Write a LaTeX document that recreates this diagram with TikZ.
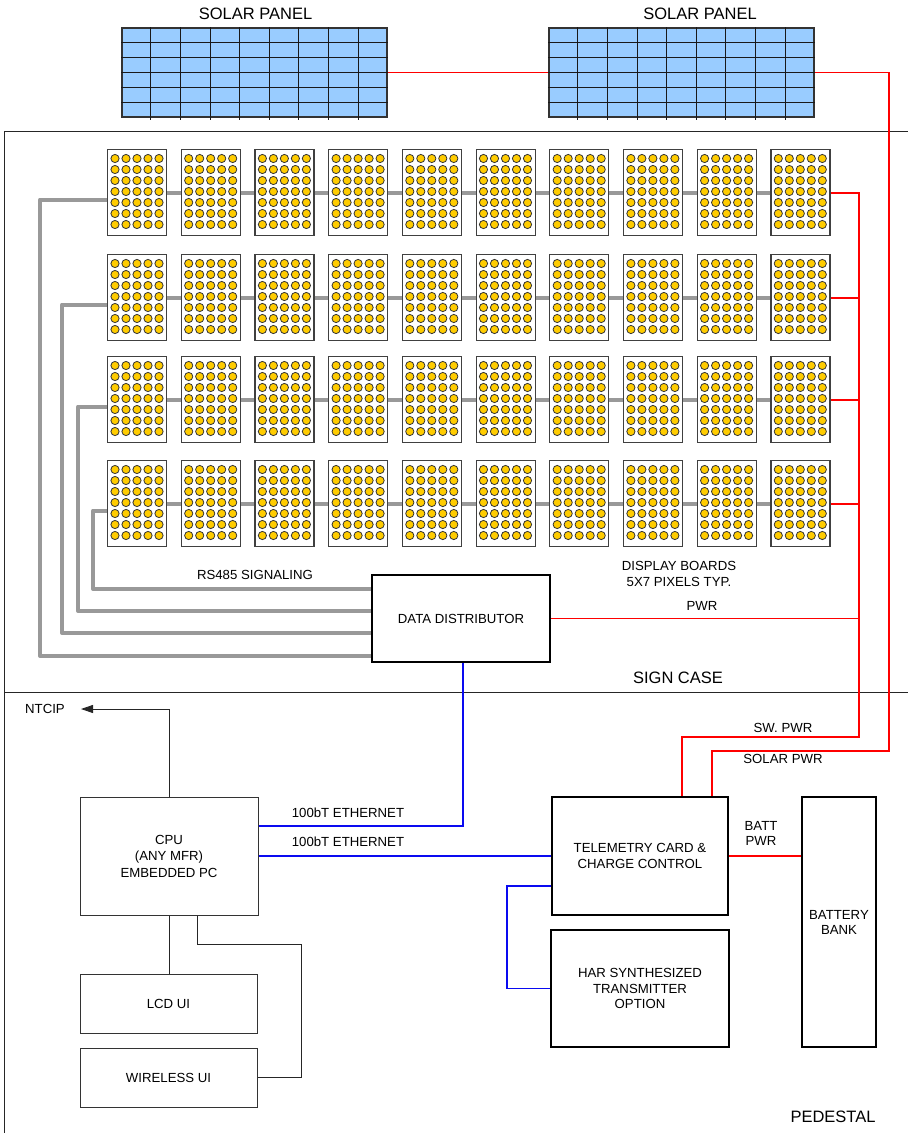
\documentclass[tikz,border=0pt]{standalone}
\usepackage{fontspec}
\setmainfont{Liberation Sans}
\usetikzlibrary{arrows.meta,calc}
\definecolor{busgray}{RGB}{153,153,153}
\definecolor{panelblue}{RGB}{153,204,255}
\definecolor{ledyellow}{RGB}{255,204,0}
\definecolor{pwrred}{RGB}{255,0,0}
\definecolor{ethblue}{RGB}{10,10,240}
\begin{document}
\begin{tikzpicture}[x=1pt,y=-1pt,
  lab/.style={font=\fontsize{13.2}{15.5}\selectfont,inner sep=0pt,align=center},
  biglab/.style={font=\fontsize{16.5}{19}\selectfont,inner sep=0pt},
  box/.style={draw=black,line width=1.7pt,align=center,inner sep=0pt,font=\fontsize{13.2}{16}\selectfont},
  thinbox/.style={draw=black!80,line width=1pt,align=center,inner sep=0pt,font=\fontsize{13.2}{16.5}\selectfont},
  board/.style={draw=black!75,line width=1.2pt,minimum width=59pt,minimum height=86pt,inner sep=0pt,anchor=north west},
  dot/.style={fill=ledyellow,draw=black!80,line width=0.8pt},
  panel/.style={fill=panelblue,draw=black!80,line width=1.5pt,minimum width=265pt,minimum height=89pt,inner sep=0pt},
  gridl/.style={draw=black!90,line width=1.1pt},
  bus/.style={draw=busgray,line width=4pt},
  pwr/.style={draw=pwrred,line width=1.9pt},
  eth/.style={draw=ethblue,line width=1.9pt},
  wire/.style={draw=black!85,line width=0.9pt},
  frame/.style={draw=black!85,line width=1pt}]
\useasboundingbox (0,0) rectangle (908,1133);

% frames
\draw[frame] (4,1133) -- (4,131) -- (908,131);
\draw[frame] (4,692) -- (908,692);

% solar panels
\node[panel] (sp1) at (254.5,72.5) {};
\node[panel] (sp2) at (681.5,72.5) {};
\foreach \p in {sp1,sp2}{
  \foreach \k in {1,...,8}
    \draw[gridl] ($(\p.north west)!\k/9!(\p.north east)$) -- ([yshift=-2pt]$(\p.south west)!\k/9!(\p.south east)$);
  \foreach \k in {1,...,5}
    \draw[gridl] ($(\p.north west)!\k/6!(\p.south west)$) -- ($(\p.north east)!\k/6!(\p.south east)$);
}
\node[biglab] (t1) at (255.5,14) {SOLAR PANEL};
\node[biglab] (t2) at (700,14) {SOLAR PANEL};

% display boards
\foreach \j/\t in {1/149,2/254,3/356,4/460}{
  \foreach \i in {0,...,9}{
    \pgfmathsetmacro\bx{107+73.7*\i}
    \node[board] (b-\i-\j) at (\bx,\t) {};
    \foreach \k in {0,...,4}
      \foreach \m in {0,...,6}
        \draw[dot] (\bx+8+11*\k,\t+9.5+11*\m) circle[radius=4.1pt];
  }
  \foreach \i [evaluate=\i as \n using int(\i+1)] in {0,...,8}
    \draw[bus] (b-\i-\j.east) -- (b-\n-\j.west);
}

% data distributor
\node[box,minimum width=178pt,minimum height=87pt] (dd) at (461,618.5) {DATA DISTRIBUTOR};

% RS485 buses
\coordinate (l1) at (40,656);
\coordinate (l2) at (62,633);
\coordinate (l3) at (78,611);
\coordinate (l4) at (93,589);
\foreach \j in {1,...,4}
  \draw[bus,line join=round] ([yshift=-7pt]b-0-\j.west) -| (l\j) -- (l\j -| dd.west);

\node[lab] (rs) at (255,575) {RS485 SIGNALING};
\node[lab] (dbl) at (679,566) {DISPLAY BOARDS};
\node[lab] (pxl) at (679,582) {5X7 PIXELS TYP.};
\node[lab] (pwrl) at (702,606) {PWR};
\node[biglab] (sc) at (678,678) {SIGN CASE};

% pedestal boxes
\node[thinbox,minimum width=178pt,minimum height=118pt] (cpu) at (169,856) {CPU\\(ANY MFR)\\EMBEDDED PC};
\node[thinbox,minimum width=177pt,minimum height=59pt] (lcd) at (168.5,1003.5) {LCD UI};
\node[thinbox,minimum width=177pt,minimum height=59pt] (wl) at (168.5,1077.5) {WIRELESS UI};
\node[box,minimum width=176pt,minimum height=118pt] (tel) at (640,856) {TELEMETRY CARD \&\\CHARGE CONTROL};
\node[box,minimum width=178pt,minimum height=117pt,font=\fontsize{13.2}{15.5}\selectfont] (har) at (640,988.5) {HAR SYNTHESIZED\\TRANSMITTER\\OPTION};
\node[box,minimum width=74pt,minimum height=250pt,font=\fontsize{13.2}{15}\selectfont] (bat) at (839,922) {BATTERY\\BANK};

% power wiring
\coordinate (pv) at (859,0);
\coordinate (swc) at (859,737);
\coordinate (solc) at (889,751);
\draw[pwr] (sp1.east) -- (sp2.west);
\draw[pwr] (sp2.east) -| (solc) -| ([xshift=72pt]tel.north);
\draw[pwr] (b-9-1.east) -| (swc) -| ([xshift=42pt]tel.north);
\foreach \j in {2,3,4}
  \draw[pwr] (b-9-\j.east) -- (b-9-\j.east -| pv);
\draw[pwr] (dd.east) -- (dd.east -| pv);
\draw[pwr] (tel.east) -- (tel.east -| bat.west);
\node[lab] (swl) at (783,728) {SW. PWR};
\node[lab] (soll) at (783,759) {SOLAR PWR};
\node[lab] (batl) at (761,833.5) {BATT\\PWR};

% ethernet
\draw[eth] ([yshift=30pt]cpu.east) -| ([xshift=2pt]dd.south);
\draw[eth] (cpu.east) -- (cpu.east -| tel.west);
\coordinate (hc) at (507,988.5);
\draw[eth] ([yshift=-30pt]tel.west) -| (hc) -- (har.west);
\node[lab] (e1) at (348,813) {100bT ETHERNET};
\node[lab] (e2) at (348,842) {100bT ETHERNET};

% CPU wiring
\node[lab] (ntcip) at (45,709) {NTCIP};
\coordinate (ntc) at (81,709);
\draw[wire,-{Triangle[length=12pt,width=8pt]}] (cpu.north) |- (ntc);
\draw[wire] (cpu.south) -- (cpu.south |- lcd.north);
\coordinate (wc) at (301,944);
\draw[wire] ([xshift=28pt]cpu.south) |- (wc) |- (wl.east);

\node[biglab] (ped) at (833,1117) {PEDESTAL};
\end{tikzpicture}
\end{document}
